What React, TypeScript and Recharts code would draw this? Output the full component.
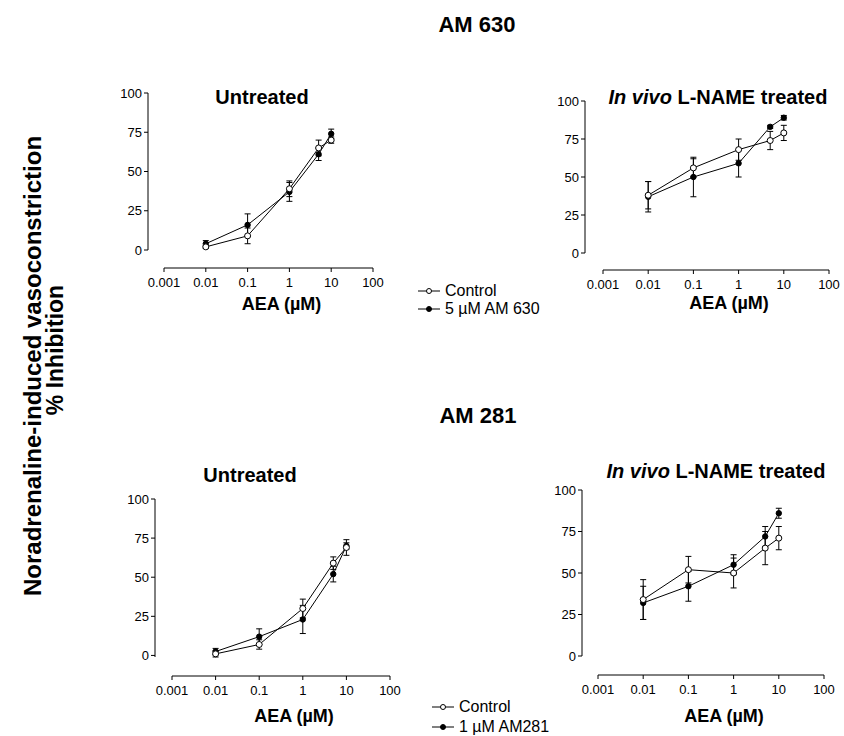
import React from "react";
import { LineChart, Line, XAxis, YAxis, ErrorBar, Legend } from "recharts";

const FONT = "'Liberation Sans', Arial, Helvetica, sans-serif";

const doses = [0.01, 0.1, 1, 5, 10];
const xTicks = [0.001, 0.01, 0.1, 1, 10, 100];
const yTicks = [0, 25, 50, 75, 100];

// AM 630, untreated
const am630UntControl = [2, 9, 39, 65, 70];
const am630UntControlSem = [1, 5, 5, 5, 2];
const am630UntDrug = [4, 16, 37, 61, 74];
const am630UntDrugSem = [2, 7, 6, 4, 3];

// AM 630, in vivo L-NAME
const am630LnControl = [38, 56, 68, 74, 79];
const am630LnControlSem = [9, 6, 7, 6, 5];
const am630LnDrug = [37, 50, 59, 83, 89];
const am630LnDrugSem = [10, 13, 9, 1, 1.5];

// AM 281, untreated
const am281UntControl = [1, 7, 30, 59, 69];
const am281UntControlSem = [2, 3, 6, 4, 5];
const am281UntDrug = [2.5, 12, 23, 52, 70];
const am281UntDrugSem = [2, 5, 9, 5, 2];

// AM 281, in vivo L-NAME
const am281LnControl = [34, 52, 50, 65, 71];
const am281LnControlSem = [12, 8, 9, 10, 7];
const am281LnDrug = [32, 42, 55, 72, 86];
const am281LnDrugSem = [10, 9, 6, 6, 3];

interface Row {
  dose: number;
  control: number;
  controlSem: number;
  drug: number;
  drugSem: number;
}

function buildRows(c: number[], cs: number[], d: number[], ds: number[]): Row[] {
  return doses.map((dose, i) => ({
    dose,
    control: c[i],
    controlSem: cs[i],
    drug: d[i],
    drugSem: ds[i],
  }));
}

interface Geo {
  yAxisX: number;
  plotLeft: number;
  plotRight: number;
  plotTop: number;
  plotBottom: number;
  xAxisY: number;
  labelBaseline: number;
}

interface LegendSpec {
  drugName: string;
  x: number;
  y: number;
  rowH: number;
}

const Y_W = 40;
const MT = 12;
const MR = 26;

function LegendIcon({ filled }: { filled: boolean }) {
  return (
    <svg width={22} height={10} style={{ display: "block" }}>
      <line x1={0} y1={5} x2={22} y2={5} stroke="#000" strokeWidth={1} />
      <circle cx={11} cy={5} r={2.5} fill={filled ? "#000" : "#fff"} stroke="#000" strokeWidth={1} />
    </svg>
  );
}

function Panel({ geo, rows, legend }: { geo: Geo; rows: Row[]; legend?: LegendSpec }) {
  const sY = geo.plotLeft - geo.yAxisX;
  const sX = geo.xAxisY - geo.plotBottom;
  const hX = geo.labelBaseline - geo.xAxisY + 8;
  const plotW = geo.plotRight - geo.plotLeft;
  const plotH = geo.plotBottom - geo.plotTop;
  const chartLeft = geo.yAxisX - Y_W;
  const chartTop = geo.plotTop - MT;
  const width = Y_W + sY + plotW + MR;
  const height = MT + plotH + sX + hX;
  const tickStyle = { fontSize: 13, fill: "#000", fontFamily: FONT };

  return (
    <div style={{ position: "absolute", left: chartLeft, top: chartTop }}>
      <LineChart width={width} height={height} data={rows} margin={{ top: MT, right: MR, bottom: 0, left: 0 }}>
        {/* spacer axes keep the drawn axes detached from the plot corner */}
        <XAxis xAxisId="gap" type="number" domain={[0, 1]} height={sX} tick={false} axisLine={false} tickLine={false} />
        <XAxis
          xAxisId="main"
          dataKey="dose"
          type="number"
          scale="log"
          domain={[0.001, 100]}
          ticks={xTicks}
          allowDataOverflow
          height={hX}
          stroke="#000"
          tick={tickStyle}
          tickSize={4}
          tickMargin={6}
          tickFormatter={(v) => String(v)}
          label={{
            value: "AEA (µM)",
            position: "insideBottom",
            offset: 8,
            dx: 13,
            style: { fontSize: 18, fontWeight: "bold", fill: "#000", fontFamily: FONT },
          }}
        />
        <YAxis yAxisId="gap" type="number" domain={[0, 1]} width={sY} tick={false} axisLine={false} tickLine={false} />
        <YAxis
          yAxisId="main"
          type="number"
          domain={[0, 100]}
          ticks={yTicks}
          width={Y_W}
          stroke="#000"
          tick={tickStyle}
          tickSize={4}
          tickMargin={2}
        />
        <Line
          xAxisId="main"
          yAxisId="main"
          dataKey="drug"
          name={legend ? legend.drugName : "drug"}
          stroke="#000"
          strokeWidth={1}
          dot={{ r: 2.7, fill: "#000", stroke: "#000", strokeWidth: 1 }}
          isAnimationActive={false}
        >
          <ErrorBar dataKey="drugSem" width={3} stroke="#000" strokeWidth={1} isAnimationActive={false} />
        </Line>
        <Line
          xAxisId="main"
          yAxisId="main"
          dataKey="control"
          name="Control"
          stroke="#000"
          strokeWidth={1}
          dot={{ r: 3, fill: "#fff", stroke: "#000", strokeWidth: 1 }}
          isAnimationActive={false}
        >
          <ErrorBar dataKey="controlSem" width={3} stroke="#000" strokeWidth={1} isAnimationActive={false} />
        </Line>
        {legend && (
          <Legend
            layout="vertical"
            align="center"
            verticalAlign="middle"
            wrapperStyle={{ left: legend.x - chartLeft, top: legend.y - chartTop, width: 160 }}
            content={() => (
              <div style={{ fontFamily: FONT, fontSize: 16, color: "#000" }}>
                {[
                  { label: "Control", filled: false },
                  { label: legend.drugName, filled: true },
                ].map((it) => (
                  <div key={it.label} style={{ display: "flex", alignItems: "center", height: legend.rowH, whiteSpace: "nowrap" }}>
                    <LegendIcon filled={it.filled} />
                    <span style={{ marginLeft: 5 }}>{it.label}</span>
                  </div>
                ))}
              </div>
            )}
          />
        )}
      </LineChart>
    </div>
  );
}

const geoTL: Geo = { yAxisX: 148, plotLeft: 164, plotRight: 373, plotTop: 93, plotBottom: 250, xAxisY: 268, labelBaseline: 310 };
const geoTR: Geo = { yAxisX: 585, plotLeft: 603, plotRight: 829, plotTop: 101, plotBottom: 253, xAxisY: 270, labelBaseline: 309 };
const geoBL: Geo = { yAxisX: 155, plotLeft: 172, plotRight: 390, plotTop: 499, plotBottom: 657, xAxisY: 676, labelBaseline: 722 };
const geoBR: Geo = { yAxisX: 582, plotLeft: 598, plotRight: 824, plotTop: 490, plotBottom: 656, xAxisY: 675, labelBaseline: 722 };

export default function App() {
  const bold = { fontFamily: FONT, fontWeight: "bold" as const, fill: "#000" };
  return (
    <div style={{ position: "absolute", left: 0, top: 0, width: 844, height: 736, background: "#fff", fontFamily: FONT }}>
      <svg width={844} height={736} style={{ position: "absolute", left: 0, top: 0 }}>
        <text x={477} y={32} textAnchor="middle" fontSize={22} {...bold}>AM 630</text>
        <text x={478} y={423} textAnchor="middle" fontSize={22} {...bold}>AM 281</text>
        <text x={262} y={104} textAnchor="middle" fontSize={20} {...bold}>Untreated</text>
        <text x={718} y={104} textAnchor="middle" fontSize={20} {...bold}>
          <tspan fontStyle="italic">In vivo</tspan> L-NAME treated
        </text>
        <text x={250} y={482} textAnchor="middle" fontSize={20} {...bold}>Untreated</text>
        <text x={716} y={478} textAnchor="middle" fontSize={20} {...bold}>
          <tspan fontStyle="italic">In vivo</tspan> L-NAME treated
        </text>
        <text x={41} y={366} textAnchor="middle" fontSize={24} transform="rotate(-90, 41, 366)" {...bold}>
          Noradrenaline-induced vasoconstriction
        </text>
        <text x={63} y={350} textAnchor="middle" fontSize={23} transform="rotate(-90, 63, 350)" {...bold}>
          % Inhibition
        </text>
      </svg>
      <Panel
        geo={geoTL}
        rows={buildRows(am630UntControl, am630UntControlSem, am630UntDrug, am630UntDrugSem)}
        legend={{ drugName: "5 µM AM 630", x: 418, y: 282, rowH: 18 }}
      />
      <Panel geo={geoTR} rows={buildRows(am630LnControl, am630LnControlSem, am630LnDrug, am630LnDrugSem)} />
      <Panel
        geo={geoBL}
        rows={buildRows(am281UntControl, am281UntControlSem, am281UntDrug, am281UntDrugSem)}
        legend={{ drugName: "1 µM AM281", x: 432, y: 697, rowH: 20 }}
      />
      <Panel geo={geoBR} rows={buildRows(am281LnControl, am281LnControlSem, am281LnDrug, am281LnDrugSem)} />
    </div>
  );
}
